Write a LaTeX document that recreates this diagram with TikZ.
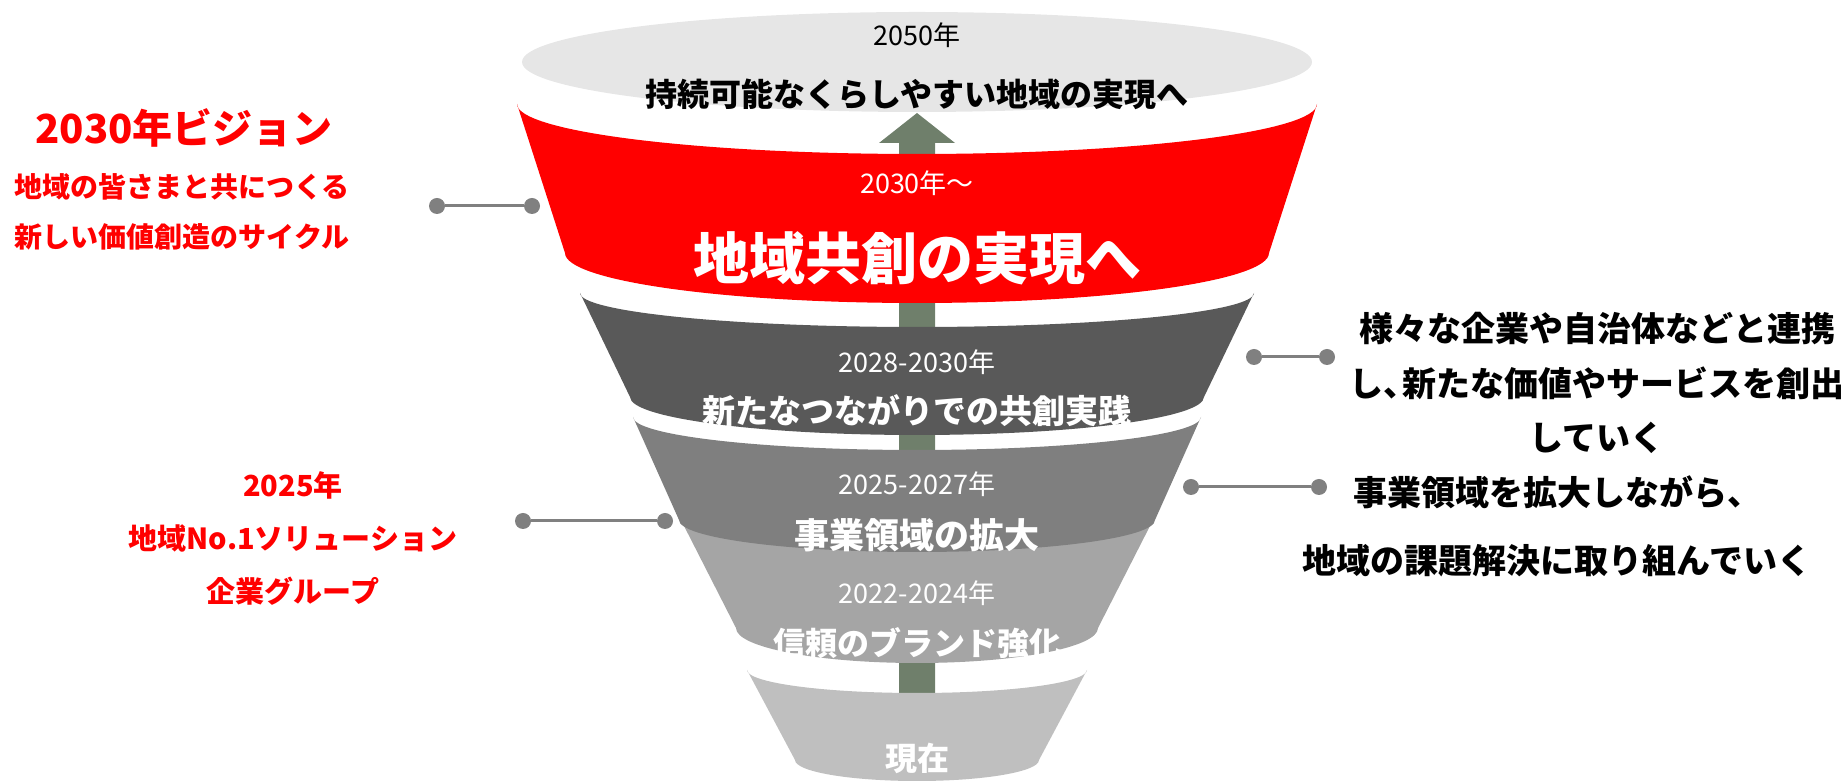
\documentclass[tikz,border=0pt]{standalone}
\usepackage{fontspec}
\setmainfont{Noto Sans CJK JP}
\usepackage{tikz}
\usepackage{xcolor}

\definecolor{visionred}{HTML}{FF0000}
\definecolor{topgray}{HTML}{E6E6E6}
\definecolor{bandA}{HTML}{595959}
\definecolor{bandB}{HTML}{7F7F7F}
\definecolor{bandC}{HTML}{A5A5A5}
\definecolor{bandD}{HTML}{BFBFBF}
\definecolor{arrowgreen}{HTML}{6F7F6B}
\definecolor{pingray}{HTML}{808080}

\begin{document}
\begin{tikzpicture}[x=1pt, y=1pt,
    yeartext/.style={inner sep=0pt, font=\fontsize{27}{30}\selectfont},
    phasetext/.style={inner sep=0pt, font=\bfseries\fontsize{#1}{#1}\selectfont, text=white},
    sidetext/.style={inner sep=0pt, align=center, font=\bfseries\fontsize{#1}{#1}\selectfont},
    pindot/.style={circle, fill=pingray, inner sep=0pt, minimum size=16pt},
    pinline/.style={draw=pingray, line width=3pt}]
\useasboundingbox (0,0) rectangle (1847,781);

\fill[topgray] (917,719) ellipse [x radius=395, y radius=50];
\node[yeartext] (Y2050) at (917,746) {2050年};
\node[sidetext=32] (G2050) at (917,687) {持続可能なくらしやすい地域の実現へ};

\fill[arrowgreen] (899,61) -- (899,638) -- (879,638) -- (917,668) -- (955,638) -- (935,638) -- (935,61) -- cycle;

\fill[visionred] (517,677) arc[start angle=180, end angle=360, x radius=400, y radius=50]
    -- (1269,528) arc[start angle=0, end angle=-180, x radius=352, y radius=50] -- cycle;
\node[yeartext, text=white] (Y2030) at (917,598) {2030年～};
\node[phasetext=56] (P2030) at (917,523) {地域共創の実現へ};

\fill[bandA] (580,488) arc[start angle=180, end angle=360, x radius=337, y radius=34]
    -- (1204,384) arc[start angle=0, end angle=-180, x radius=287, y radius=38] -- cycle;
\node[yeartext, text=white] (Y2028) at (917,419) {2028-2030年};
\node[phasetext=33] (P2028) at (917,370) {新たなつながりでの共創実践};

\fill[bandC] (682,259) arc[start angle=180, end angle=360, x radius=235, y radius=25]
    -- (1098,153) arc[start angle=0, end angle=-180, x radius=181, y radius=35] -- cycle;

\fill[bandB] (633,364) arc[start angle=180, end angle=360, x radius=284, y radius=33]
    -- (1155,261) arc[start angle=0, end angle=-180, x radius=238, y radius=32] -- cycle;
\node[yeartext, text=white] (Y2025) at (917,297) {2025-2027年};
\node[phasetext=35] (P2025) at (917,246) {事業領域の拡大};

\node[yeartext, text=white] (Y2022) at (917,188) {2022-2024年};
\node[phasetext=32] (P2022) at (917,138) {信頼のブランド強化};

\fill[bandD] (747,111) arc[start angle=180, end angle=360, x radius=170, y radius=23]
    -- (1039,21) arc[start angle=0, end angle=-180, x radius=122, y radius=21] -- cycle;
\node[phasetext=32] (Pnow) at (917,23) {現在};

\node[sidetext=40, text=visionred] (V2030) at (184,653) {2030年ビジョン};
\node[sidetext=28, text=visionred, font=\bfseries\fontsize{28}{50}\selectfont] (V2030b) at (182,569) {地域の皆さまと共につくる\\新しい価値創造のサイクル};
\node[pindot] (V2030l) at (437,575) {};
\node[pindot] (V2030r) at (532,575) {};
\draw[pinline] (V2030l) -- (V2030r);

\node[sidetext=29, text=visionred, font=\bfseries\fontsize{29}{53}\selectfont] (V2025) at (293,243) {2025年\\地域No.1ソリューション\\企業グループ};
\node[pindot] (V2025l) at (523,260) {};
\node[pindot] (V2025r) at (665,260) {};
\draw[pinline] (V2025l) -- (V2025r);

\node[sidetext=34, font=\bfseries\fontsize{34}{54.5}\selectfont] (Rtop) at (1597,398) {様々な企業や自治体などと連携\\し、\kern-0.45em新たな価値やサービスを創出\\していく};
\node[pindot] (Rtopl) at (1254,424) {};
\node[pindot] (Rtopr) at (1327,424) {};
\draw[pinline] (Rtopl) -- (Rtopr);

\node[sidetext=34, font=\bfseries\fontsize{34}{68}\selectfont] (Rlow) at (1557,255) {事業領域を拡大しながら、\\地域の課題解決に取り組んでいく};
\node[pindot] (Rlowl) at (1191,294) {};
\node[pindot] (Rlowr) at (1319,294) {};
\draw[pinline] (Rlowl) -- (Rlowr);
\end{tikzpicture}
\end{document}
